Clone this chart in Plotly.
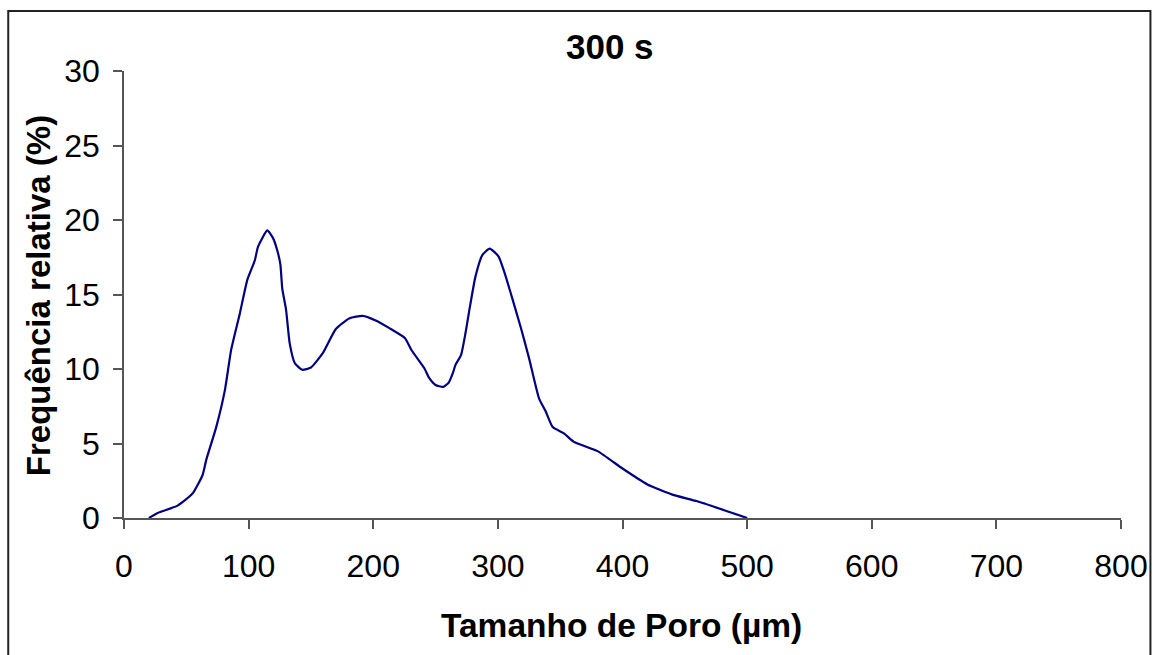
import plotly.graph_objects as go

# Pore size (µm) and relative frequency (%)
pore_size = [20, 27, 43, 55, 63, 66, 74, 81, 86, 93, 99, 105, 107.5, 115, 119.5,
             123.5, 125.5, 127, 130, 133, 137, 143, 150, 159.5, 170, 181, 191.5,
             202, 213, 225.5, 230.5, 241, 245, 250, 256, 260.5, 264, 266, 270.5,
             274, 277, 282, 287.5, 293.5, 300.5, 305, 311.5, 318.5, 325, 333,
             338.5, 344, 353, 361, 380, 400, 420, 440, 460, 500]
rel_freq = [0, 0.34, 0.83, 1.64, 2.87, 3.9, 6.1, 8.6, 11.3, 13.75, 16.0, 17.3,
            18.2, 19.3, 18.8, 17.8, 17.0, 15.4, 14.0, 11.7, 10.4, 9.95, 10.1,
            11.06, 12.68, 13.4, 13.57, 13.26, 12.74, 12.07, 11.29, 10.05, 9.38,
            8.93, 8.8, 9.08, 9.76, 10.28, 10.95, 12.4, 13.9, 16.2, 17.65, 18.08,
            17.56, 16.55, 14.76, 12.75, 10.73, 8.03, 7.13, 6.1, 5.68, 5.11, 4.49,
            3.32, 2.25, 1.57, 1.12, 0]

x_ticks = [0, 100, 200, 300, 400, 500, 600, 700, 800]
y_ticks = [0, 5, 10, 15, 20, 25, 30]

title_text = "300 s"
x_title = "Tamanho de Poro (µm)"
y_title = "Frequência relativa (%)"

FONT = "Liberation Sans, Arial, sans-serif"
W, H = 1160, 655
ML, MR, MT, MB = 124, 37, 71, 137
PW = W - ML - MR
PH = H - MT - MB


def px(x):
    return (x - ML) / PW


def py(y):
    return (H - MB - y) / PH


fig = go.Figure()
fig.add_trace(go.Scatter(
    x=pore_size, y=rel_freq, mode="lines",
    line=dict(color="#000080", width=2.2, shape="spline", smoothing=0.5),
    cliponaxis=False, showlegend=False, hoverinfo="skip",
))

axis_color = "#555555"
fig.update_xaxes(
    range=[0, 800], tickvals=x_ticks, ticktext=[str(v) for v in x_ticks],
    showgrid=False, zeroline=False, showline=True, linecolor=axis_color, linewidth=1.5,
    ticks="outside", ticklen=9, tickcolor=axis_color, tickwidth=1.5,
    tickfont=dict(family=FONT, size=32, color="black"), ticklabelstandoff=10,
)
fig.update_yaxes(
    range=[0, 30], tickvals=y_ticks, ticktext=[str(v) for v in y_ticks],
    showgrid=False, zeroline=False, showline=True, linecolor=axis_color, linewidth=1.5,
    ticks="outside", ticklen=9, tickcolor=axis_color, tickwidth=1.5,
    tickfont=dict(family=FONT, size=32, color="black"), ticklabelstandoff=7,
)

fig.update_layout(
    width=W, height=H,
    margin=dict(l=ML, r=MR, t=MT, b=MB),
    paper_bgcolor="white", plot_bgcolor="white",
    annotations=[
        dict(text="<b>%s</b>" % title_text, xref="paper", yref="paper",
             x=px(611), y=py(46), xanchor="center", yanchor="middle",
             showarrow=False, font=dict(family=FONT, size=35, color="black")),
        dict(text="<b>%s</b>" % x_title, xref="paper", yref="paper",
             x=px(622), y=py(625), xanchor="center", yanchor="middle",
             showarrow=False, font=dict(family=FONT, size=33.5, color="black")),
        dict(text="<b>%s</b>" % y_title, xref="paper", yref="paper",
             x=px(38), y=py(296), xanchor="center", yanchor="middle",
             textangle=-90, showarrow=False,
             font=dict(family=FONT, size=33, color="black")),
    ],
    shapes=[
        dict(type="rect", xref="paper", yref="paper",
             x0=px(8), x1=px(1152.5), y0=py(662), y1=py(11),
             line=dict(color="#222222", width=2), fillcolor="rgba(0,0,0,0)",
             layer="below"),
    ],
)

fig.write_html(
    "out.html",
    config={"displayModeBar": False},
    post_script="document.body.style.margin='0';document.body.style.overflow='hidden';",
)
